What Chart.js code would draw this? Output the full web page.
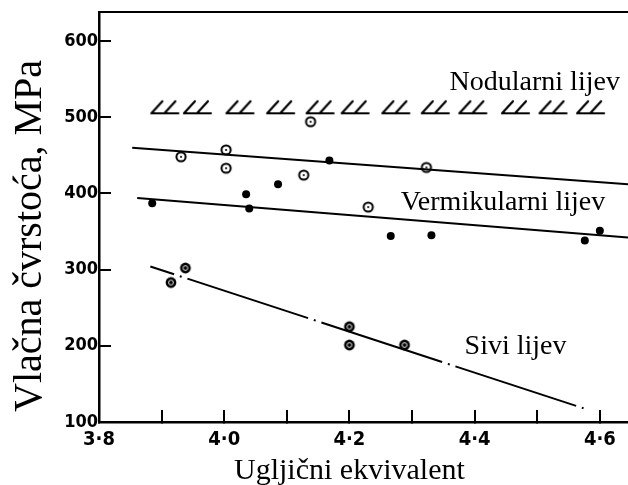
<!DOCTYPE html>
<html>
<head>
<meta charset="utf-8">
<script src="https://cdn.jsdelivr.net/npm/chart.js@4.4.0/dist/chart.umd.min.js"></script>
<style>
    body { margin: 0; background: #fff; }
</style>
</head>
<body>
<canvas id="chart1" width="628" height="485"></canvas>
<script>

// mjerene tocke (procijenjeno sa slike)
var nodularX = [3.931, 4.003, 4.003, 4.127, 4.138, 4.230, 4.323];
var nodularY = [448, 457, 433, 424, 494, 382, 434];

var vermX = [3.885, 4.035, 4.040, 4.086, 4.168, 4.266, 4.331, 4.576, 4.600];
var vermY = [387, 399, 380, 412, 443, 344, 345, 338, 351];

var siviX = [3.915, 3.938, 4.200, 4.200, 4.288];
var siviY = [283, 302, 225, 201, 201];

// pravci
var nodularFitX = [3.853, 4.645];
var nodularFitY = [460, 412];
var vermFitX = [3.861, 4.645];
var vermFitY = [394, 342];
var siviFitX = [3.882, 4.574];
var siviFitY = [304, 118];

// srafura iznad 500 MPa
var hatchX = [3.906, 3.958, 4.026, 4.091, 4.154, 4.210, 4.275, 4.338, 4.398, 4.466, 4.526, 4.586];
var hatchY = [513, 513, 513, 513, 513, 513, 513, 513, 513, 513, 513, 513];

// tick labels
var xLabels = ['3·8', '4·0', '4·2', '4·4', '4·6'];
var yLabels = ['100', '200', '300', '400', '500', '600'];

var labels = [
    { text: 'Nodularni lijev', x: 4.36, y: 536 },
    { text: 'Vermikularni lijev', x: 4.282, y: 378 },
    { text: 'Sivi lijev', x: 4.384, y: 189 }
];

var xTitle = 'Ugljični ekvivalent';
var yTitle = 'Vlačna čvrstoća, MPa';


function pts(xs, ys) {
    var out = [];
    for (var i = 0; i < xs.length; i++) {
        out.push({ x: xs[i], y: ys[i] });
    }
    return out;
}

// kruzic s tockom
function openDot() {
    var c = document.createElement('canvas');
    c.width = 14; c.height = 14;
    var g = c.getContext('2d');
    g.strokeStyle = '#000';
    g.lineWidth = 2;
    g.beginPath(); g.arc(7, 7, 4.6, 0, Math.PI * 2); g.stroke();
    g.fillStyle = '#000';
    g.beginPath(); g.arc(7, 7, 1.1, 0, Math.PI * 2); g.fill();
    return c;
}

// tamni kruzic (sivi lijev)
function darkDot() {
    var c = document.createElement('canvas');
    c.width = 14; c.height = 14;
    var g = c.getContext('2d');
    g.fillStyle = '#000';
    g.beginPath(); g.arc(7, 7, 5.4, 0, Math.PI * 2); g.fill();
    g.strokeStyle = '#fff';
    g.lineWidth = 0.9;
    g.beginPath(); g.arc(7, 7, 2.4, 0, Math.PI * 2); g.stroke();
    return c;
}

// znak srafure
function hatchMark() {
    var c = document.createElement('canvas');
    c.width = 32; c.height = 16;
    var g = c.getContext('2d');
    g.strokeStyle = '#000';
    g.lineWidth = 2.2;
    g.lineCap = 'round';
    g.beginPath();
    g.moveTo(2, 14); g.lineTo(29, 14);
    g.moveTo(2, 14); g.lineTo(13, 2);
    g.moveTo(15, 14); g.lineTo(26, 2);
    g.stroke();
    return c;
}

// natpisi u grafu i naslovi osi
var textPlugin = {
    id: 'natpisi',
    afterDraw: function(chart) {
        var ctx = chart.ctx;
        var sx = chart.scales.x;
        var sy = chart.scales.y;
        var area = chart.chartArea;
        ctx.save();
        ctx.fillStyle = '#000';
        ctx.font = '28px "Liberation Serif"';
        ctx.textAlign = 'left';
        ctx.textBaseline = 'alphabetic';
        labels.forEach(function(l) {
            ctx.fillText(l.text, sx.getPixelForValue(l.x), sy.getPixelForValue(l.y));
        });

        // x naslov
        ctx.font = '30px "Liberation Serif"';
        ctx.textAlign = 'center';
        ctx.fillText(xTitle, sx.getPixelForValue(4.2), area.bottom + 57);

        // y naslov
        ctx.font = '40px "Liberation Serif"';
        ctx.textAlign = 'left';
        ctx.translate(41, area.bottom - 10);
        ctx.rotate(-Math.PI / 2);
        ctx.fillText(yTitle, 0, 0);
        ctx.restore();
    }
};

function isStep(v, n) {
    var k = Math.round(v * n);
    return Math.abs(v * n - k) < 1e-6;
}

function noPad(s) {
    s.paddingLeft = 0;
    s.paddingRight = 0;
    s.paddingTop = 0;
    s.paddingBottom = 0;
}

function renderChart(name) {
    var ctx = document.getElementById(name).getContext('2d');
    var myChart = new Chart(ctx, {
        type: 'scatter',
        data: {
            datasets: [{
                data: pts(hatchX, hatchY),
                pointStyle: hatchMark(),
                pointRadius: 8
            }, {
                type: 'line',
                data: pts(nodularFitX, nodularFitY),
                borderColor: '#000',
                borderWidth: 2,
                pointRadius: 0
            }, {
                type: 'line',
                data: pts(vermFitX, vermFitY),
                borderColor: '#000',
                borderWidth: 2,
                pointRadius: 0
            }, {
                type: 'line',
                data: pts(siviFitX, siviFitY),
                borderColor: '#000',
                borderWidth: 2,
                borderDash: [127, 6, 2, 6],
                borderDashOffset: 102,
                pointRadius: 0
            }, {
                data: pts(nodularX, nodularY),
                pointStyle: openDot(),
                pointRadius: 7
            }, {
                data: pts(vermX, vermY),
                pointStyle: 'circle',
                pointRadius: 4,
                backgroundColor: '#000',
                borderColor: '#000',
                borderWidth: 0
            }, {
                data: pts(siviX, siviY),
                pointStyle: darkDot(),
                pointRadius: 7
            }]
        },
        options: {
            responsive: false,
            devicePixelRatio: 1,
            animation: false,
            events: [],
            layout: {
                autoPadding: false,
                padding: { top: 12, left: 0, right: 0, bottom: 0 }
            },
            plugins: {
                legend: { display: false },
                tooltip: { enabled: false }
            },
            scales: {
                x: {
                    type: 'linear',
                    position: 'bottom',
                    min: 3.8,
                    max: 4.645,
                    afterFit: function(s) { s.height = 63; noPad(s); },
                    border: { display: true, color: '#000', width: 2.5 },
                    grid: {
                        drawOnChartArea: false,
                        drawTicks: true,
                        tickLength: -12,
                        color: '#000',
                        lineWidth: 2
                    },
                    ticks: {
                        stepSize: 0.1,
                        includeBounds: false,
                        padding: 18,
                        maxRotation: 0,
                        autoSkip: false,
                        color: '#000',
                        font: { family: 'DejaVu Sans Condensed', size: 20, weight: 'bold' },
                        callback: function(v) {
                            if (!isStep(v, 5)) return '';
                            return xLabels[Math.round((v - 3.8) * 5)] || '';
                        }
                    }
                },
                xTop: {
                    type: 'linear',
                    position: 'top',
                    min: 3.8,
                    max: 4.645,
                    afterFit: function(s) { s.height = 0; noPad(s); },
                    border: { display: true, color: '#000', width: 2 },
                    grid: { display: false, drawTicks: false },
                    ticks: { display: false }
                },
                y: {
                    type: 'linear',
                    min: 100,
                    max: 638,
                    afterFit: function(s) { s.width = 99; noPad(s); },
                    border: { display: true, color: '#000', width: 2.5 },
                    grid: {
                        drawOnChartArea: false,
                        drawTicks: true,
                        tickLength: -12,
                        color: '#000',
                        lineWidth: 2
                    },
                    ticks: {
                        stepSize: 100,
                        includeBounds: false,
                        padding: 13,
                        color: '#000',
                        font: { family: 'DejaVu Sans Condensed', size: 18, weight: 'bold' },
                        callback: function(v) {
                            return yLabels[Math.round((v - 100) / 100)] || '';
                        }
                    }
                }
            }
        },
        plugins: [textPlugin]
    });
}

renderChart('chart1');

</script>
</body>
</html>
